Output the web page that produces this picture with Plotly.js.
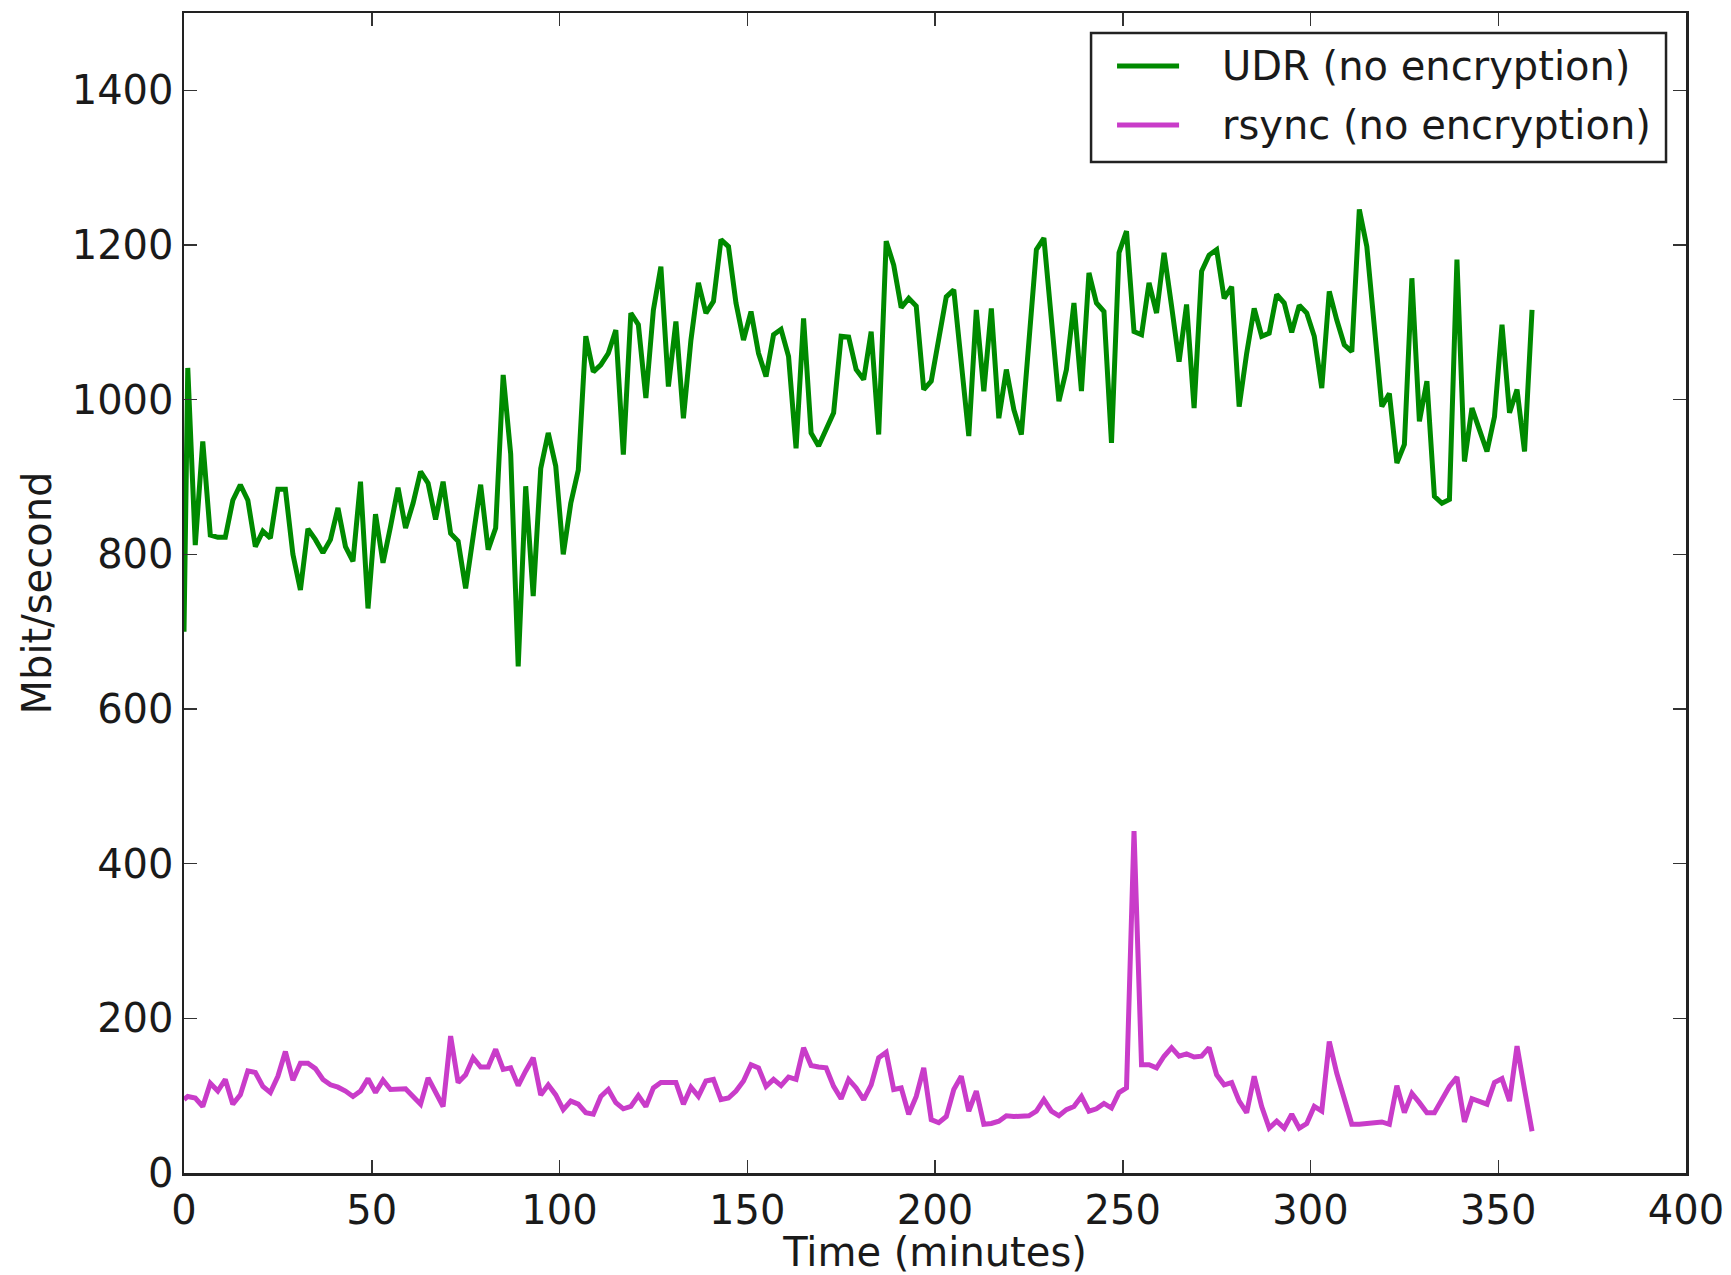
<!DOCTYPE html>
<html>
<head>
<meta charset="utf-8">
<script src="https://cdn.plot.ly/plotly-3.0.1.min.js"></script>
<style>
html, body { margin: 0; padding: 0; background: #ffffff; }
#chart { width: 1731px; height: 1275px; }
</style>
</head>
<body>
<div id="chart"></div>
<script>
// Sample times (minutes)
const timeMinutes = [0,1,3,5,7,9,11,13,15,17,19,21,23,25,27,29,31,33,35,37,39,41,43,45,47,49,51,53,55,57,59,
61,63,65,67,69,71,73,75,77,79,81,83,85,87,89,91,93,95,97,99,101,103,105,107,109,111,113,115,117,119,
121,123,125,127,129,131,133,135,137,139,141,143,145,147,149,151,153,155,157,159,161,163,165,167,169,171,173,175,177,179,
181,183,185,187,189,191,193,195,197,199,201,203,205,207,209,211,213,215,217,219,221,223,225,227,229,231,233,235,237,239,
241,243,245,247,249,251,253,255,257,259,261,263,265,267,269,271,273,275,277,279,281,283,285,287,289,291,293,295,297,299,
301,303,305,307,309,311,313,315,317,319,321,323,325,327,329,331,333,335,337,339,341,343,345,347,349,351,353,355,357,359];

// UDR (no encryption), Mbit/second
const udrValues = [700,1041,812,946,825,822,822,870,890,870,810,830,821,884,884,800,754,833,819,802,819,860,810,791,894,730,852,789,836,886,834,
866,907,892,845,894,827,817,756,823,890,806,834,1032,930,655,888,746,911,957,914,800,866,909,1082,1036,1045,1060,1090,929,1112,
1097,1002,1116,1172,1017,1101,976,1077,1151,1112,1127,1207,1198,1125,1077,1114,1060,1030,1084,1091,1056,937,1105,957,940,963,983,1082,1081,1039,
1026,1088,955,1205,1174,1119,1131,1121,1013,1024,1075,1133,1142,1050,953,1116,1011,1118,976,1039,987,955,1070,1194,1209,1103,998,1039,1125,1011,
1164,1125,1114,944,1190,1218,1088,1084,1151,1112,1190,1121,1049,1123,989,1166,1187,1194,1131,1146,991,1060,1118,1082,1086,1136,1125,1087,1122,1112,
1082,1015,1140,1103,1071,1062,1246,1198,1090,991,1008,918,942,1157,972,1024,875,866,871,1181,920,989,961,933,978,1097,983,1013,933,1116];

// rsync (no encryption), Mbit/second
const rsyncValues = [95,99,97,86,116,106,121,89,101,132,130,112,104,125,157,120,142,142,135,121,114,111,106,99,106,122,104,120,108,109,109,
99,89,123,106,86,177,117,127,149,137,137,160,134,136,113,132,149,101,114,101,82,93,89,78,76,99,108,91,83,86,
100,86,110,117,117,117,89,111,99,119,121,95,97,106,119,140,136,112,121,113,124,121,162,139,137,136,112,96,121,110,
95,114,149,156,108,110,76,99,136,69,65,73,108,125,80,106,63,64,67,74,73,73,74,80,95,80,74,82,86,99,
80,83,90,84,104,110,442,140,140,136,151,162,151,154,150,151,162,127,114,117,93,78,125,86,58,67,58,76,58,64,
86,80,170,129,95,63,63,64,65,66,63,113,78,103,91,78,78,95,112,124,66,96,92,89,117,122,93,164,108,54];

const seriesNames = ['UDR (no encryption)', 'rsync (no encryption)'];
const seriesColors = ['#008a00', '#c93cc9'];
const xTickValues = [0, 50, 100, 150, 200, 250, 300, 350, 400];
const yTickValues = [0, 200, 400, 600, 800, 1000, 1200, 1400];

const FONT = 'DejaVu Sans, Liberation Sans, sans-serif';
const TXT = '#1a1a1a';
const FS = 40;
const LW = 5;

const traces = [
  { x: timeMinutes, y: udrValues, name: seriesNames[0], type: 'scatter', mode: 'lines',
    line: { color: seriesColors[0], width: LW }, showlegend: false },
  { x: timeMinutes, y: rsyncValues, name: seriesNames[1], type: 'scatter', mode: 'lines',
    line: { color: seriesColors[1], width: LW }, showlegend: false }
];

// Legend drawn in paper coordinates (box, sample lines, labels)
const legBox = { x0: 0.6039, x1: 0.9867, y0: 0.8716, y1: 0.9828 };
const legRows = [0.9543, 0.9035];
const legLineX = [0.6212, 0.6625];
const legTextX = 0.6900;

const shapes = [
  { type: 'rect', xref: 'paper', yref: 'paper', x0: legBox.x0, x1: legBox.x1, y0: legBox.y0, y1: legBox.y1,
    line: { color: '#222222', width: 2.5 }, fillcolor: '#ffffff', layer: 'above' }
];
const annotations = [];
seriesNames.forEach((nm, i) => {
  shapes.push({ type: 'line', xref: 'paper', yref: 'paper', x0: legLineX[0], x1: legLineX[1],
    y0: legRows[i], y1: legRows[i], line: { color: seriesColors[i], width: LW }, layer: 'above' });
  annotations.push({ xref: 'paper', yref: 'paper', x: legTextX, y: legRows[i], xanchor: 'left', yanchor: 'middle',
    text: nm, showarrow: false, font: { family: FONT, size: FS, color: TXT } });
});

const axisCommon = {
  showgrid: false, zeroline: false,
  showline: true, linecolor: '#222222', linewidth: 2.5, mirror: 'ticks',
  ticks: 'inside', ticklen: 13, tickwidth: 1.5, tickcolor: '#333333',
  tickfont: { family: FONT, size: FS, color: TXT }
};

const layout = {
  width: 1731, height: 1275,
  paper_bgcolor: '#ffffff', plot_bgcolor: '#ffffff',
  margin: { l: 184, r: 45, t: 13, b: 101.5 },
  showlegend: false,
  shapes: shapes,
  annotations: annotations,
  xaxis: Object.assign({}, axisCommon, {
    range: [0, 400], tickmode: 'array', tickvals: xTickValues,
    ticktext: xTickValues.map(String),
    title: { text: 'Time (minutes)', font: { family: FONT, size: FS, color: TXT }, standoff: 3 }
  }),
  yaxis: Object.assign({}, axisCommon, {
    range: [0, 1500], tickmode: 'array', tickvals: yTickValues,
    ticktext: yTickValues.map(String),
    title: { text: 'Mbit/second', font: { family: FONT, size: FS, color: TXT }, standoff: 8 }
  })
};

Plotly.newPlot('chart', traces, layout, { staticPlot: true, displayModeBar: false });
</script>
</body>
</html>
